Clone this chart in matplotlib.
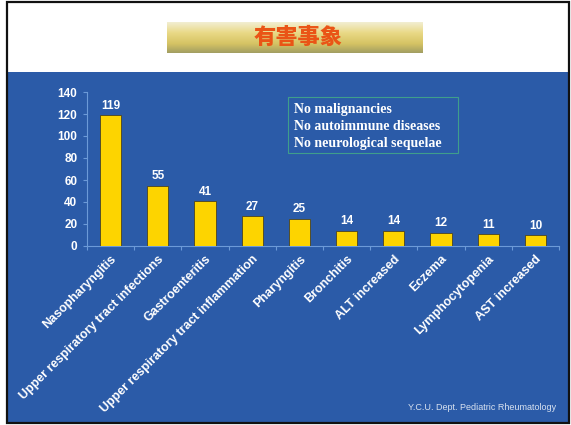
import matplotlib.pyplot as plt
import numpy as np
from matplotlib.patches import Rectangle
from matplotlib.colors import to_rgb

events = ['Nasopharyngitis', 'Upper respiratory tract infections', 'Gastroenteritis',
          'Upper respiratory tract inflammation', 'Pharyngitis', 'Bronchitis',
          'ALT increased', 'Eczema', 'Lymphocytopenia', 'AST increased']
counts = [119, 55, 41, 27, 25, 14, 14, 12, 11, 10]
yticks = [0, 20, 40, 60, 80, 100, 120, 140]
notes = ['No malignancies', 'No autoimmune diseases', 'No neurological sequelae']

W, H = 571, 425
blue = '#2b5ba8'
bar_yellow = '#fdd400'
axis_blue = '#6c9ad8'

fig = plt.figure(figsize=(W / 100, H / 100), dpi=100)
fig.patch.set_facecolor('white')

# blue slide body and outer frame
fig.add_artist(Rectangle((8 / W, 3 / H), 560 / W, (425 - 72 - 3) / H,
                         transform=fig.transFigure, facecolor=blue, edgecolor='none', zorder=0))
fig.add_artist(Rectangle((7 / W, 2 / H), 562 / W, 421 / H, transform=fig.transFigure,
                         facecolor='none', edgecolor='#111111', lw=1.6, zorder=5))

# title banner with gold gradient, light at the top, olive at the bottom
bax = fig.add_axes([167 / W, 1 - 53 / H, 255 / W, 31 / H])
stops = [0, 0.35, 0.7, 1]
stop_cols = np.array([to_rgb(c) for c in ['#f2eed2', '#e9d985', '#d6c364', '#a29e62']])
t = np.linspace(0, 1, 64)
grad = np.stack([np.interp(t, stops, stop_cols[:, k]) for k in range(3)], axis=-1)
bax.imshow(grad[:, None, :], aspect='auto', extent=[0, 1, 0, 1], origin='upper')
bax.set_xlim(0, 1)
bax.set_ylim(0, 1)
bax.axis('off')
bax.text((298 - 167) / 255, 0.5, '有害事象', ha='center', va='center', fontsize=16,
         fontweight='heavy', color='#ea5416', family=['Noto Sans CJK JP', 'DejaVu Sans'])

# bar chart
ax = fig.add_axes([87 / W, 1 - 246 / H, 472 / W, 154 / H])
ax.set_facecolor('none')
x = np.arange(len(events))
bars = ax.bar(x, counts, width=0.45, color=bar_yellow, edgecolor='#4a4420', lw=0.6, zorder=3)
for b, v in zip(bars, counts):
    ax.text(b.get_x() + b.get_width() / 2, v + 3, str(v), ha='center', va='bottom',
            color='white', fontsize=8.5, fontweight='bold', family='Liberation Sans')

ax.set_xlim(-0.5, len(events) - 0.5)
ax.set_ylim(0, 140)
ax.set_yticks(yticks)
ax.set_xticks(x)
ax.set_xticks(np.arange(len(events) + 1) - 0.5, minor=True)
ax.set_xticklabels(events, rotation=45, ha='right', va='top', rotation_mode='anchor')
for lab in ax.get_xticklabels():
    lab.set_fontsize(9)
for lab in ax.get_yticklabels():
    lab.set_fontsize(8.5)
for lab in ax.get_xticklabels() + ax.get_yticklabels():
    lab.set_color('white')
    lab.set_fontweight('bold')
    lab.set_family('Liberation Sans')
ax.tick_params(axis='x', which='major', length=0, pad=5)
ax.tick_params(axis='x', which='minor', length=3, color=axis_blue, width=0.8)
ax.tick_params(axis='y', length=3, color=axis_blue, width=0.8, pad=4)
for s in ['top', 'right']:
    ax.spines[s].set_visible(False)
for s in ['left', 'bottom']:
    ax.spines[s].set_color(axis_blue)
    ax.spines[s].set_linewidth(0.8)

# notes box
fig.add_artist(Rectangle((288 / W, 1 - 153 / H), 170 / W, 56 / H, transform=fig.transFigure,
                         facecolor='none', edgecolor='#3f9e8c', lw=0.8, zorder=4))
for i, n in enumerate(notes):
    fig.text(294 / W, 1 - (109 + 17.5 * i) / H, n, ha='left', va='center', color='white',
             fontsize=10, fontweight='bold', family='Liberation Serif')

fig.text(556 / W, 1 - 408 / H, 'Y.C.U. Dept. Pediatric Rheumatology', ha='right', va='center',
         color='#d8e2f0', fontsize=6.5, family='Liberation Sans')

fig.savefig('out.png', dpi=100, facecolor=fig.get_facecolor())
